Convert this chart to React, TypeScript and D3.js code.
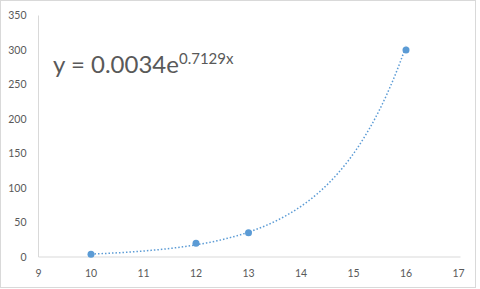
import React from "react";
import * as d3 from "d3";

const xValues = [10, 12, 13, 16];
const yValues = [4, 20, 35, 300];
const xTicks = [9, 10, 11, 12, 13, 14, 15, 16, 17];
const yTicks = [0, 50, 100, 150, 200, 250, 300, 350];
const trendCoef = [0.0034, 0.7129];
const eqMain = "y = 0.0034e";
const eqSup = "0.7129x";

export default function App() {
  const W = 480, H = 289;
  const x = d3.scaleLinear().domain([9, 17]).range([38.5, 458.5]);
  const y = d3.scaleLinear().domain([0, 350]).range([257, 15.5]);
  const color = "#5B9BD5";
  const trendX = d3.range(0, 121).map(i => 10 + (6 * i) / 120);
  const line = d3.line<number>()
    .x(d => x(d))
    .y(d => y(trendCoef[0] * Math.exp(trendCoef[1] * d)))
    .curve(d3.curveLinear);
  const font = "Lato, 'Open Sans', sans-serif";
  return (
    <svg width={W} height={H} style={{ position: "absolute", left: 0, top: 0 }}>
      <rect x={0.5} y={0.5} width={W - 5} height={H - 2} fill="#fff" stroke="#D9D9D9" />
      <line x1={x(9)} x2={x(9)} y1={y(350)} y2={y(0)} stroke="#D9D9D9" />
      <line x1={x(9)} x2={x(17) + 2} y1={y(0)} y2={y(0)} stroke="#D9D9D9" />
      {yTicks.map(t => (
        <text key={"y" + t} x={x(9) - 12} y={y(t)} dy="0.35em" textAnchor="end"
          fontFamily={font} fontSize={10.5} fill="#595959">{t}</text>
      ))}
      {xTicks.map(t => (
        <text key={"x" + t} x={x(t)} y={y(0) + 16} dy="0.35em" textAnchor="middle"
          fontFamily={font} fontSize={10.5} fill="#595959">{t}</text>
      ))}
      <path d={line(trendX) || ""} fill="none" stroke={color} strokeWidth={1.5}
        strokeDasharray="1.5 2" />
      {xValues.map((v, i) => (
        <circle key={"p" + i} cx={x(v)} cy={y(yValues[i])} r={3.5} fill={color} />
      ))}
      <text x={53} y={73} fontFamily={font} fontSize={24} fill="#595959">
        {eqMain}
        <tspan fontSize={15} dy={-9}>{eqSup}</tspan>
      </text>
    </svg>
  );
}
